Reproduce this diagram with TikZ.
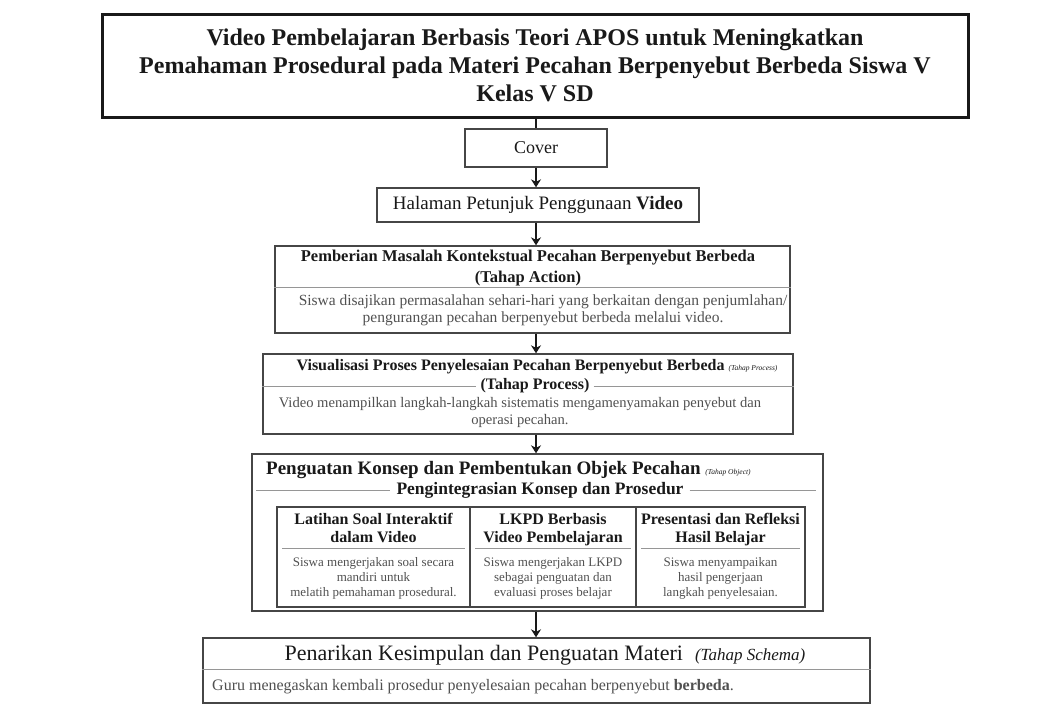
\documentclass[tikz,border=0pt]{standalone}
\usepackage{fontspec}
\setmainfont{Liberation Serif}
\usepackage{xcolor}
\definecolor{ink}{RGB}{25,25,25}
\definecolor{soft}{RGB}{80,80,80}
\definecolor{frame}{RGB}{70,70,70}
\definecolor{rule}{RGB}{150,150,150}
\usepackage{tikz}
\usetikzlibrary{positioning, arrows.meta}
\newcommand{\fsz}[2]{\fontsize{#1}{#2}\selectfont}
\newcommand{\tahap}[1]{{\normalfont\itshape\fsz{7.5}{9}#1}}
\tikzstyle{box} = [
    rectangle,
    draw=frame,
    line width=1.4pt,
    inner sep=0pt,
]
\tikzstyle{banner} = [
    box,
    draw=ink,
    line width=3pt,
    minimum width=866pt,
    minimum height=103pt,
    align=center,
    text=ink,
    font=\bfseries\fsz{24}{28},
]
\tikzstyle{page} = [
    box,
    text=ink,
    font=\fsz{18}{22},
]
\tikzstyle{head} = [
    inner sep=0pt,
    align=center,
    text=ink,
    font=\bfseries\fsz{17}{21},
]
\tikzstyle{desc} = [
    inner sep=0pt,
    align=center,
    text=soft,
    font=\fsz{15}{17},
]
\tikzstyle{cell} = [
    box,
    minimum height=100pt,
]
\tikzstyle{divider} = [draw=rule, line width=1pt]
\tikzstyle{link} = [line width=1.8pt, draw=ink]
\tikzstyle{arrow} = [link, ->,>={Stealth[length=8pt,width=10pt]}]

\begin{document}
\begin{tikzpicture}[x=1pt, y=-1pt]
    \useasboundingbox (0,0) rectangle (1059,704);

    % boxes
    \node (title) at (535,65.5) [banner] {Video Pembelajaran Berbasis Teori APOS untuk Meningkatkan\\
        Pemahaman Prosedural pada Materi Pecahan Berpenyebut Berbeda Siswa V\\Kelas V SD};
    \node (cover) at (536,148) [page, minimum width=142pt, minimum height=38pt] {Cover};
    \node (guide) at (538,205) [page, font=\fsz{19}{22}, minimum width=322pt, minimum height=34pt] {Halaman Petunjuk Penggunaan \textbf{Video}};

    \node (action) at (532.5,289.5) [box, minimum width=515pt, minimum height=87pt] {};
    \node (actionhead) at (528,268) [head, font=\bfseries\fsz{16.5}{21}] {Pemberian Masalah Kontekstual Pecahan Berpenyebut Berbeda\\(Tahap Action)};
    \node (actiontext) at (543,310) [desc, font=\fsz{15.5}{17}] {Siswa disajikan permasalahan sehari-hari yang berkaitan dengan penjumlahan/\\pengurangan pecahan berpenyebut berbeda melalui video.};

    \node (process) at (528,394) [box, minimum width=530pt, minimum height=80pt] {};
    \node (processhead) at (537,367) [head, font=\bfseries\fsz{16}{19}] {Visualisasi Proses Penyelesaian Pecahan Berpenyebut Berbeda \tahap{(Tahap Process)}};
    \node (processtag) at (535,386) [head, inner xsep=4pt, font=\bfseries\fsz{16}{19}] {(Tahap Process)};
    \node (processtext) at (520,412) [desc, font=\fsz{14.6}{17}] {Video menampilkan langkah-langkah sistematis mengamenyamakan penyebut dan\\operasi pecahan.};

    \node (object) at (537.5,532.5) [box, minimum width=571pt, minimum height=157pt] {};
    \node (objecthead) at (266,470) [head, anchor=west, font=\bfseries\fsz{19}{22}] {Penguatan Konsep dan Pembentukan Objek Pecahan \tahap{(Tahap Object)}};
    \node (objectsub) at (540,490) [head, inner xsep=6pt, font=\bfseries\fsz{17.5}{22}] {Pengintegrasian Konsep dan Prosedur};

    % cells
    \foreach \cid/\x/\w/\head/\txt in {
        drill/373.5/193/{Latihan Soal Interaktif\\dalam Video}/{Siswa mengerjakan soal secara\\mandiri untuk\\melatih pemahaman prosedural.},
        lkpd/553/166/{LKPD Berbasis\\Video Pembelajaran}/{Siswa mengerjakan LKPD\\sebagai penguatan dan\\evaluasi proses belajar},
        talk/720.5/169/{Presentasi dan Refleksi\\Hasil Belajar}/{Siswa menyampaikan\\hasil pengerjaan\\langkah penyelesaian.}} {
        \node (\cid) at (\x,557) [cell, minimum width=\w pt] {};
        \node (h\cid) at (\x,513) [head, anchor=north, font=\bfseries\fsz{16}{18.5}] {\head};
        \node (t\cid) at (\x,557) [desc, anchor=north, font=\fsz{13}{15}] {\txt};
        \draw [divider] ([xshift=6pt]\cid.west |- 0,548) -- ([xshift=-6pt]\cid.east |- 0,548);
    }

    \node (schema) at (536.5,670.5) [box, minimum width=667pt, minimum height=65pt] {};
    \node (schemahead) at (545,655) [text=ink, inner sep=0pt, font=\fsz{22}{24}] {Penarikan Kesimpulan dan Penguatan Materi\hspace{12pt}{\itshape\fsz{17}{18}(Tahap Schema)}};
    \node (schematext) at (212,687) [desc, anchor=west, font=\fsz{16}{18}] {Guru menegaskan kembali prosedur penyelesaian pecahan berpenyebut \textbf{berbeda}.};

    % rules
    \draw [divider] (action.west |- 0,287) -- (action.east |- 0,287);
    \draw [divider] (process.west |- processtag) -- (processtag.west);
    \draw [divider] (processtag.east) -- (process.east |- processtag);
    \draw [divider] ([xshift=5pt]object.west |- objectsub) -- (objectsub.west);
    \draw [divider] (objectsub.east) -- ([xshift=-8pt]object.east |- objectsub);
    \draw [divider] (schema.west |- 0,669) -- (schema.east |- 0,669);

    % arrows
    \draw [link] (title.south -| cover) to (cover.north);
    \draw [arrow] (cover.south) to (guide.north -| cover);
    \draw [arrow] (guide.south -| cover) to (action.north -| cover);
    \draw [arrow] (action.south -| cover) to (process.north -| cover);
    \draw [arrow] (process.south -| cover) to (object.north -| cover);
    \draw [arrow] (object.south -| cover) to (schema.north -| cover);

\end{tikzpicture}
\end{document}
